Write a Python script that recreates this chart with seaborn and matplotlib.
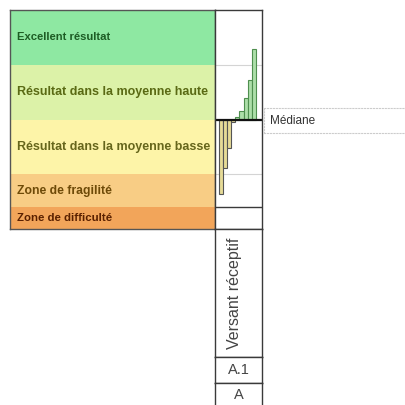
import numpy as np
import pandas as pd
import seaborn as sns
import matplotlib.pyplot as plt

# Zones (score scale 0-100, median = 50)
zone_labels = ["Zone de difficulté", "Zone de fragilité", "Résultat dans la moyenne basse",
               "Résultat dans la moyenne haute", "Excellent résultat"]
zone_bounds = [0, 10, 25, 50, 75, 100]
zone_colors = ["#f2a55a", "#f8cd85", "#fdf4a8", "#dcf2a8", "#8ee8a2"]
zone_text_colors = ["#5a2000", "#6e4a08", "#66661c", "#5a6a14", "#1d5c24"]
zone_font_sizes = [8.2, 8.8, 9.0, 9.0, 8.1]

# Item scores, sorted
scores = [16, 28, 37, 49, 51, 54, 60, 68, 82]
median = 50

# Bottom cells
versant = "Versant réceptif"
cells = ["A.1", "A"]

W, H = 406, 405
sns.set_theme(style="white")
plt.rcParams["font.family"] = ["Liberation Sans", "DejaVu Sans"]

fig = plt.figure(figsize=(W / 100, H / 100), dpi=100)


def add_ax(x, y, w, h):
    return fig.add_axes([x / W, 1 - (y + h) / H, w / W, h / H])


frame = "#3a3a3a"

# left panel: coloured zones
ax_z = add_ax(10, 10, 205, 219)
for lo, hi, col, lab, tcol, fs in zip(zone_bounds[:-1], zone_bounds[1:], zone_colors,
                                      zone_labels, zone_text_colors, zone_font_sizes):
    ax_z.axhspan(lo, hi, color=col, lw=0)
    ax_z.text(0.035, (lo + hi) / 2, lab, color=tcol, fontsize=fs, fontweight="bold",
              va="center", ha="left", transform=ax_z.get_yaxis_transform())
ax_z.set_ylim(0, 100)
ax_z.set_xlim(0, 1)
ax_z.set_xticks([])
ax_z.set_yticks([])
for s in ax_z.spines.values():
    s.set_color("#555555")
    s.set_linewidth(1)

# right panel: bars around the median
ax_b = add_ax(215, 10, 47, 219)
df = pd.DataFrame({"item": range(len(scores)), "dev": np.array(scores) - median})
df["side"] = np.where(df["dev"] < 0, "low", "high")
sns.barplot(data=df, x="item", y="dev", hue="side", dodge=False, width=1,
            palette={"low": "#f3e58a", "high": "#a6e8a0"}, legend=False, ax=ax_b,
            linewidth=0.8)
for p in ax_b.patches:
    p.set_edgecolor("#555555" if p.get_height() < 0 else "#4f8f4f")
for b in [25, 75]:
    ax_b.axhline(b - median, color="#d4d4d4", lw=0.8, zorder=0)
ax_b.axhline(10 - median, color=frame, lw=1)
ax_b.axhline(0, color="#111111", lw=1.6)
ax_b.set_ylim(-median, 100 - median)
ax_b.set_xlim(-1.39, len(scores) + 0.95)
ax_b.set_xticks([])
ax_b.set_yticks([])
ax_b.set_xlabel("")
ax_b.set_ylabel("")
for s in ax_b.spines.values():
    s.set_color(frame)
    s.set_linewidth(1)

# Médiane label
ax_m = add_ax(264, 108, 150, 25)
ax_m.set_xticks([])
ax_m.set_yticks([])
ax_m.set_facecolor("none")
for s in ax_m.spines.values():
    s.set_color("#cccccc")
    s.set_linestyle(":")
    s.set_linewidth(0.8)
ax_m.text(0.04, 0.5, "Médiane", fontsize=8.5, color="#333333", va="center", ha="left",
          transform=ax_m.transAxes)

# bottom cells
ax_v = add_ax(215, 229, 47, 128)
ax_v.text(0.42, 0.5, versant, rotation=90, fontsize=11.5, color="#444444",
          ha="center", va="center", transform=ax_v.transAxes)
ax_1 = add_ax(215, 357, 47, 26)
ax_1.text(0.5, 0.5, cells[0], fontsize=10.5, color="#444444", ha="center", va="center",
          transform=ax_1.transAxes)
ax_2 = add_ax(215, 383, 47, 24)
ax_2.text(0.5, 0.5, cells[1], fontsize=10.5, color="#444444", ha="center", va="center",
          transform=ax_2.transAxes)
for a in [ax_v, ax_1, ax_2]:
    a.set_xticks([])
    a.set_yticks([])
    for s in a.spines.values():
        s.set_color(frame)
        s.set_linewidth(1)

fig.savefig("out.png", dpi=100)
